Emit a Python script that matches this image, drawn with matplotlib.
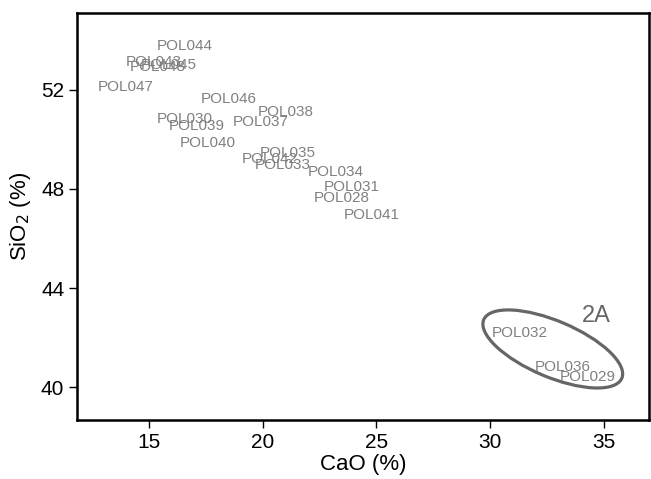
import numpy as np
import matplotlib.pyplot as plt
from matplotlib.patches import Ellipse
from matplotlib.transforms import Affine2D, ScaledTranslation

plt.rcParams['font.family'] = ['Liberation Sans', 'DejaVu Sans']

######### data ###############################
samples = ['POL044', 'POL043', 'POL048', 'POL045', 'POL047', 'POL046', 'POL038',
           'POL037', 'POL030', 'POL039', 'POL040', 'POL035', 'POL042', 'POL033',
           'POL034', 'POL031', 'POL028', 'POL041', 'POL032', 'POL036', 'POL029']
cao = [16.6, 15.2, 15.4, 15.9, 14.0, 18.5, 21.0,
       19.9, 16.6, 17.1, 17.6, 21.1, 20.3, 20.9,
       23.2, 23.9, 23.5, 24.8, 31.3, 33.2, 34.3]
sio2 = [53.78, 53.13, 52.93, 53.01, 52.12, 51.64, 51.11,
        50.71, 50.83, 50.55, 49.86, 49.45, 49.21, 48.97,
        48.69, 48.08, 47.64, 46.95, 42.18, 40.81, 40.40]
x_ticks = [15, 20, 25, 30, 35]
y_ticks = [40, 44, 48, 52]
group_label = '2A'
group_center = (32.75, 41.54)   # centre of the 2A ellipse in data units
##############################################

fig = plt.figure(figsize=(6.51, 4.79), dpi=100)
ax = fig.add_axes([0.118, 0.123, 0.879, 0.850])
ax.set_xlim(11.84, 36.98)
ax.set_ylim(38.67, 55.1)

for name, x, y in zip(samples, cao, sio2):
    ax.text(x, y, name, ha='center', va='center', fontsize=11, color='#808080')

# ellipse drawn in pixel units around the group centre
ell = Ellipse((0, 0), 150, 56, angle=-23, fill=False, edgecolor='#666666', lw=2.3,
              transform=Affine2D() + ScaledTranslation(group_center[0], group_center[1], ax.transData))
ax.add_patch(ell)
ax.text(34.68, 42.87, group_label, ha='center', va='center', fontsize=17, color='#666666')

ax.set_xticks(x_ticks)
ax.set_yticks(y_ticks)
ax.tick_params(direction='out', length=6, width=1, labelsize=15, pad=3)
for s in ax.spines.values():
    s.set_linewidth(1.8)
ax.set_xlabel('CaO (%)', fontsize=16, labelpad=2)
ax.set_ylabel('SiO$_2$ (%)', fontsize=16, labelpad=6)

fig.savefig('out.png', dpi=100)
